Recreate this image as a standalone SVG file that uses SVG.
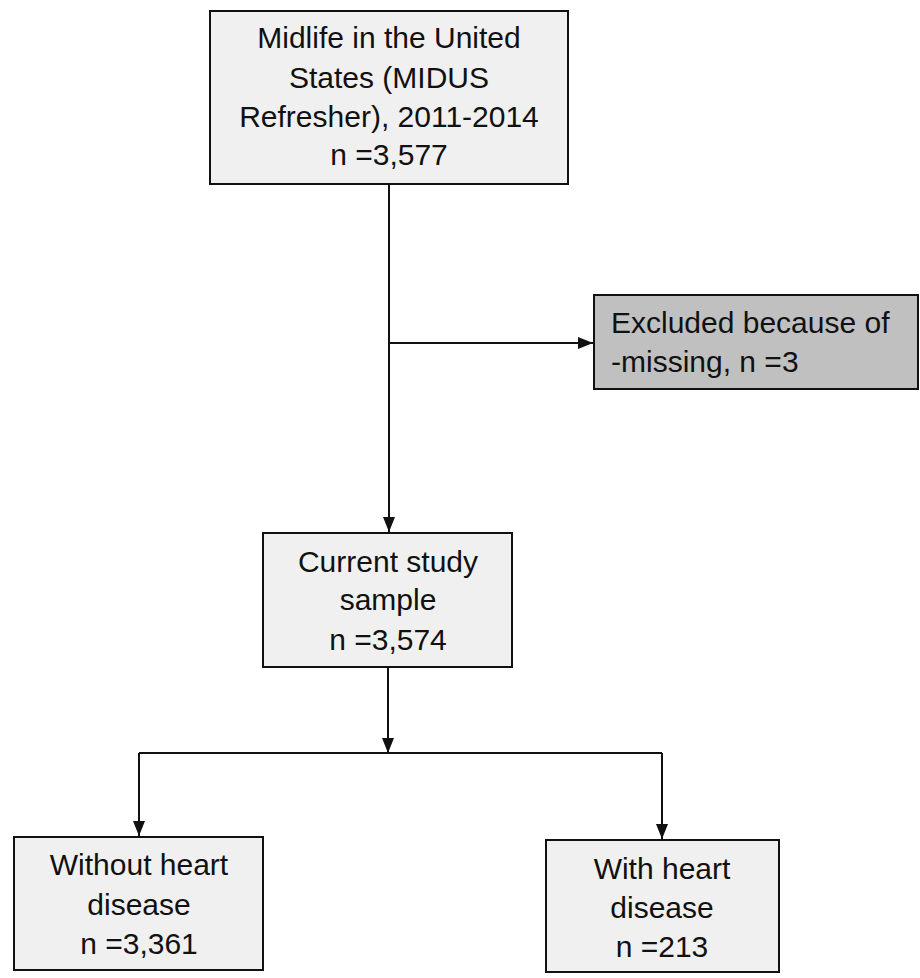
<svg xmlns="http://www.w3.org/2000/svg" width="920" height="978" viewBox="0 0 920 978">
<style>
.box{fill:#f0f0f0;stroke:#111;stroke-width:2}
.dark{fill:#c0c0c0;stroke:#111;stroke-width:2}
.t{font-family:"Liberation Sans",Arial,sans-serif;font-size:30px;fill:#111;text-anchor:middle}
.tl{font-family:"Liberation Sans",Arial,sans-serif;font-size:30px;fill:#111;text-anchor:start}
.c{fill:none;stroke:#111;stroke-width:2}
</style>
<defs>
<marker id="arr" markerUnits="userSpaceOnUse" markerWidth="16" markerHeight="16" viewBox="0 0 16 16" refX="15" refY="8" orient="auto">
<path d="M0,2 L15,8 L0,14 Z" fill="#111"/>
</marker>
</defs>
<rect width="920" height="978" fill="#ffffff"/>
<g id="connectors">
<line class="c" x1="389" y1="184" x2="389" y2="532" marker-end="url(#arr)"/>
<line class="c" x1="389" y1="343" x2="593" y2="343" marker-end="url(#arr)"/>
<line class="c" x1="388" y1="667" x2="388" y2="753" marker-end="url(#arr)"/>
<line class="c" x1="139" y1="753" x2="662" y2="753"/>
<line class="c" x1="139" y1="753" x2="139" y2="836" marker-end="url(#arr)"/>
<line class="c" x1="662" y1="753" x2="662" y2="839" marker-end="url(#arr)"/>
</g>
<g id="midus">
<rect class="box" x="210" y="11" width="358" height="173"/>
<text class="t" x="389" y="48">Midlife in the United</text>
<text class="t" x="389" y="88">States (MIDUS</text>
<text class="t" x="389" y="127">Refresher), 2011-2014</text>
<text class="t" x="389" y="165">n =3,577</text>
</g>
<g id="excluded">
<rect class="dark" x="594" y="295" width="324" height="94"/>
<text class="tl" x="611" y="333">Excluded because of</text>
<text class="tl" x="611" y="372">-missing, n =3</text>
</g>
<g id="current">
<rect class="box" x="263" y="533" width="249" height="134"/>
<text class="t" x="388" y="572">Current study</text>
<text class="t" x="388" y="610">sample</text>
<text class="t" x="388" y="650">n =3,574</text>
</g>
<g id="without">
<rect class="box" x="14" y="837" width="249" height="133"/>
<text class="t" x="139" y="875">Without heart</text>
<text class="t" x="139" y="915">disease</text>
<text class="t" x="139" y="954">n =3,361</text>
</g>
<g id="with">
<rect class="box" x="546" y="840" width="233" height="132"/>
<text class="t" x="662" y="879">With heart</text>
<text class="t" x="662" y="918">disease</text>
<text class="t" x="662" y="957">n =213</text>
</g>
</svg>
